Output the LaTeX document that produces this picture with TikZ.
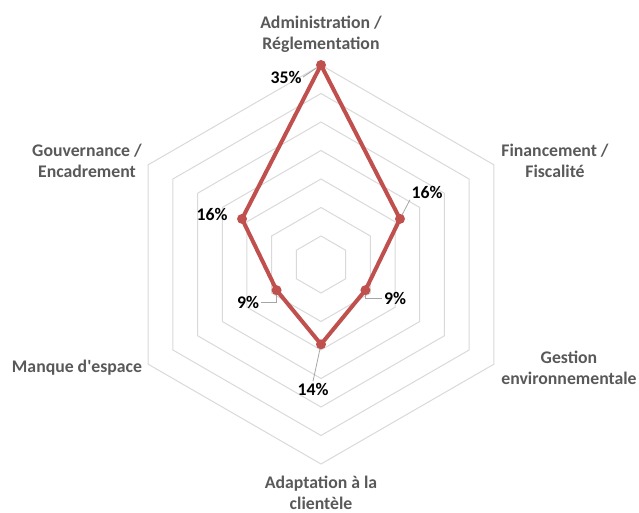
\documentclass[tikz,border=0pt]{standalone}
\usepackage{fontspec}
\setmainfont{Carlito}
\usetikzlibrary{positioning}
\definecolor{gridgray}{HTML}{D9D9D9}
\definecolor{serred}{HTML}{C0504D}
\definecolor{catgray}{HTML}{595959}
\definecolor{leadgray}{HTML}{A6A6A6}

\begin{document}
\begin{tikzpicture}[
    x=0.75pt, y=0.75pt,
    ring/.style={draw=gridgray, line width=0.75pt},
    serie/.style={draw=serred, line width=3pt, line join=round},
    dot/.style={circle, fill=serred, inner sep=0pt, minimum size=7.5pt},
    cat/.style={align=center, text=catgray, inner sep=1pt, font=\fontsize{13.3}{15.5}\selectfont\bfseries},
    val/.style={text=black, font=\fontsize{13.3}{15.5}\selectfont\bfseries, inner sep=1pt},
    leader/.style={draw=leadgray, line width=0.6pt}
]
    \useasboundingbox (0,0) rectangle (639,512);
    \begin{scope}[shift={(321,247.5)}]
        % hexagon rings, one per 5%
        \foreach \k in {1,...,7}
            \draw[ring] (90:\k*28.5) -- (30:\k*28.5) -- (-30:\k*28.5) -- (-90:\k*28.5)
                -- (210:\k*28.5) -- (150:\k*28.5) -- cycle;
        % values
        \coordinate (admin) at (90:35*5.7);
        \coordinate (fin) at (30:16*5.7);
        \coordinate (gest) at (-30:9*5.7);
        \coordinate (adapt) at (-90:14*5.7);
        \coordinate (manque) at (210:9*5.7);
        \coordinate (gouv) at (150:16*5.7);
    \end{scope}

    \node[val] (v-admin) at (286,435) {35\%};
    \node[val] (v-fin) at (427,320) {16\%};
    \node[val] (v-gest) at (395,214) {9\%};
    \node[val] (v-adapt) at (313,123) {14\%};
    \node[val] (v-manque) at (248,210) {9\%};
    \node[val] (v-gouv) at (212,298) {16\%};

    \draw[leader] (admin) -- (v-admin.east);
    \draw[leader] (fin) -- (v-fin.south west);
    \draw[leader] (gest) |- (v-gest.west);
    \draw[leader] (adapt) -- (v-adapt.north);
    \draw[leader] (manque) |- (v-manque.east);

    \draw[serie] (admin) -- (fin) -- (gest) -- (adapt) -- (manque) -- (gouv) -- cycle;
    \foreach \p in {admin, fin, gest, adapt, manque, gouv}
        \node[dot] at (\p) {};

    \node[cat] (l-admin) at (321,478) {Administration /\\Réglementation};
    \node[cat] (l-fin) at (555,351) {Financement /\\Fiscalité};
    \node[cat] (l-gest) at (569,144) {Gestion\\environnementale};
    \node[cat] (l-adapt) at (321,19) {Adaptation à la\\clientèle};
    \node[cat] (l-manque) at (77,144) {Manque d\textquotesingle espace};
    \node[cat] (l-gouv) at (87,351) {Gouvernance /\\Encadrement};
\end{tikzpicture}
\end{document}
